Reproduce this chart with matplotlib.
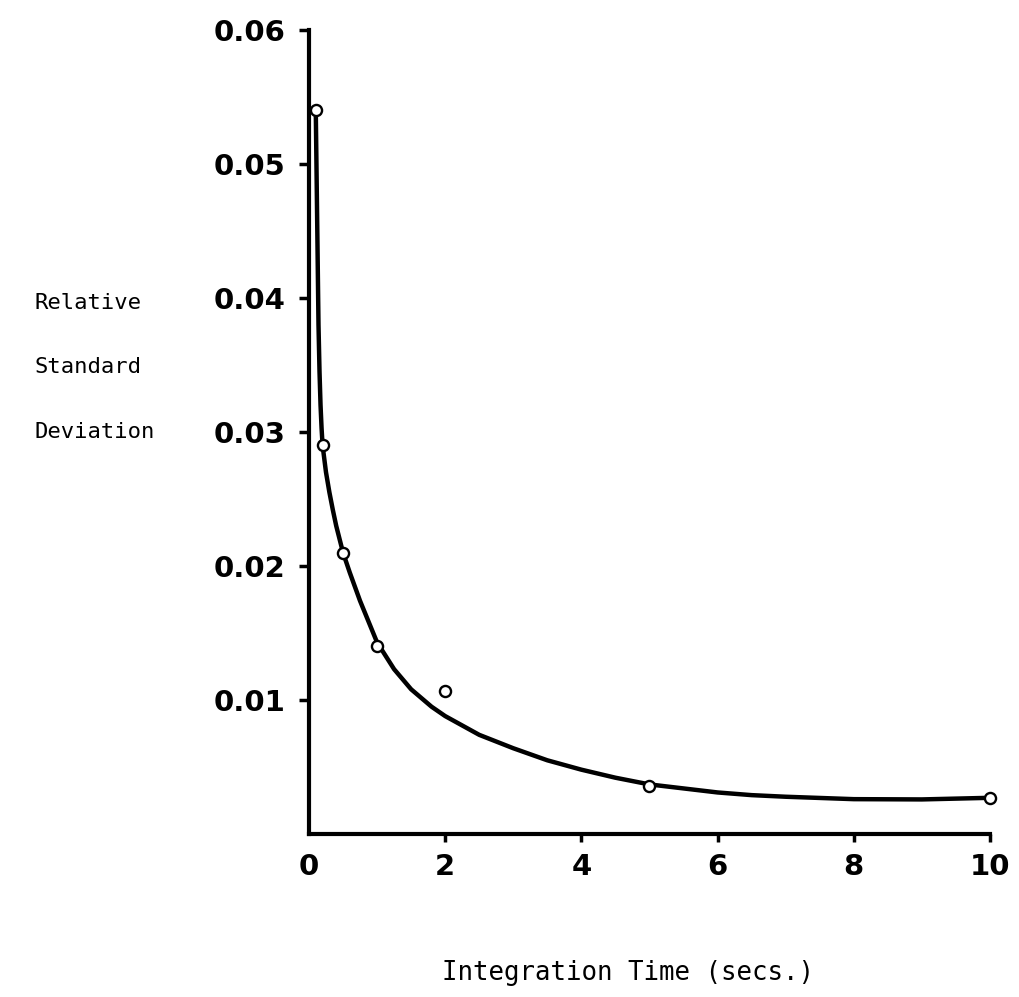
import matplotlib
matplotlib.use("Agg")
import matplotlib.pyplot as plt
from matplotlib.font_manager import FontProperties

# Measured points: relative standard deviation vs. integration time
time_s = [0.1, 0.2, 0.5, 1.0, 2.0, 5.0, 10.0]
rsd = [0.054, 0.029, 0.021, 0.014, 0.0107, 0.0036, 0.0027]

# Hand-drawn trend curve through the measurements
curve_x = [0.10, 0.11, 0.12, 0.13, 0.14, 0.155, 0.17, 0.185, 0.20, 0.25, 0.30, 0.35,
           0.40, 0.50, 0.60, 0.75, 1.00, 1.25, 1.50, 1.80, 2.00, 2.50, 3.00, 3.50,
           4.00, 4.50, 5.00, 5.50, 6.00, 6.50, 7.00, 8.00, 9.00, 10.0]
curve_y = [0.0540, 0.0500, 0.0460, 0.0420, 0.0380, 0.0345, 0.0320, 0.0303, 0.0290,
           0.0270, 0.0255, 0.0242, 0.0230, 0.0210, 0.0195, 0.0174, 0.0143, 0.0123,
           0.0108, 0.0095, 0.0088, 0.0074, 0.0064, 0.0055, 0.0048, 0.0042, 0.0037,
           0.0034, 0.0031, 0.0029, 0.00278, 0.0026, 0.00258, 0.0027]

x_ticks = [0, 2, 4, 6, 8, 10]
y_ticks = [0.01, 0.02, 0.03, 0.04, 0.05, 0.06]
y_tick_labels = ["0.01", "0.02", "0.03", "0.04", "0.05", "0.06"]

fig = plt.figure(figsize=(10.19, 9.97), dpi=100)
ax = fig.add_axes([0.3032, 0.1635, 0.6683, 0.8064])

ax.plot(curve_x, curve_y, color="black", lw=3.2, solid_capstyle="round",
        solid_joinstyle="round", zorder=2)
ax.plot(time_s, rsd, linestyle="none", marker="o", markersize=8,
        markerfacecolor="white", markeredgecolor="black", markeredgewidth=1.7,
        zorder=3, clip_on=False)

ax.set_xlim(0, 10)
ax.set_ylim(0, 0.06)

for side in ("top", "right"):
    ax.spines[side].set_visible(False)
for side in ("left", "bottom"):
    ax.spines[side].set_linewidth(3.0)
    ax.spines[side].set_capstyle("projecting")

ax.set_xticks(x_ticks)
ax.set_xticklabels([str(t) for t in x_ticks])
ax.set_yticks(y_ticks)
ax.set_yticklabels(y_tick_labels)

tick_font = FontProperties(family="DejaVu Sans", weight="bold", size=21)
for lab in ax.get_xticklabels() + ax.get_yticklabels():
    lab.set_fontproperties(tick_font)

ax.tick_params(axis="x", direction="out", length=6, width=2.5, pad=8, colors="black")
ax.tick_params(axis="y", direction="out", length=7, width=2.5, pad=10, colors="black")
# no tick mark at the origin corner
ax.xaxis.get_major_ticks()[0].tick1line.set_visible(False)

side_font = dict(family="DejaVu Sans Mono", size=16, color="black")
fig.text(35 / 1019, 1 - 303 / 997, "Relative", ha="left", va="center", **side_font)
fig.text(35 / 1019, 1 - 367 / 997, "Standard", ha="left", va="center", **side_font)
fig.text(35 / 1019, 1 - 432 / 997, "Deviation", ha="left", va="center", **side_font)
fig.text(628 / 1019, 1 - 973 / 997, "Integration Time (secs.)", ha="center",
         va="center", family="DejaVu Sans Mono", size=18.5, color="black")

fig.savefig("out.png", dpi=100, facecolor="white")
